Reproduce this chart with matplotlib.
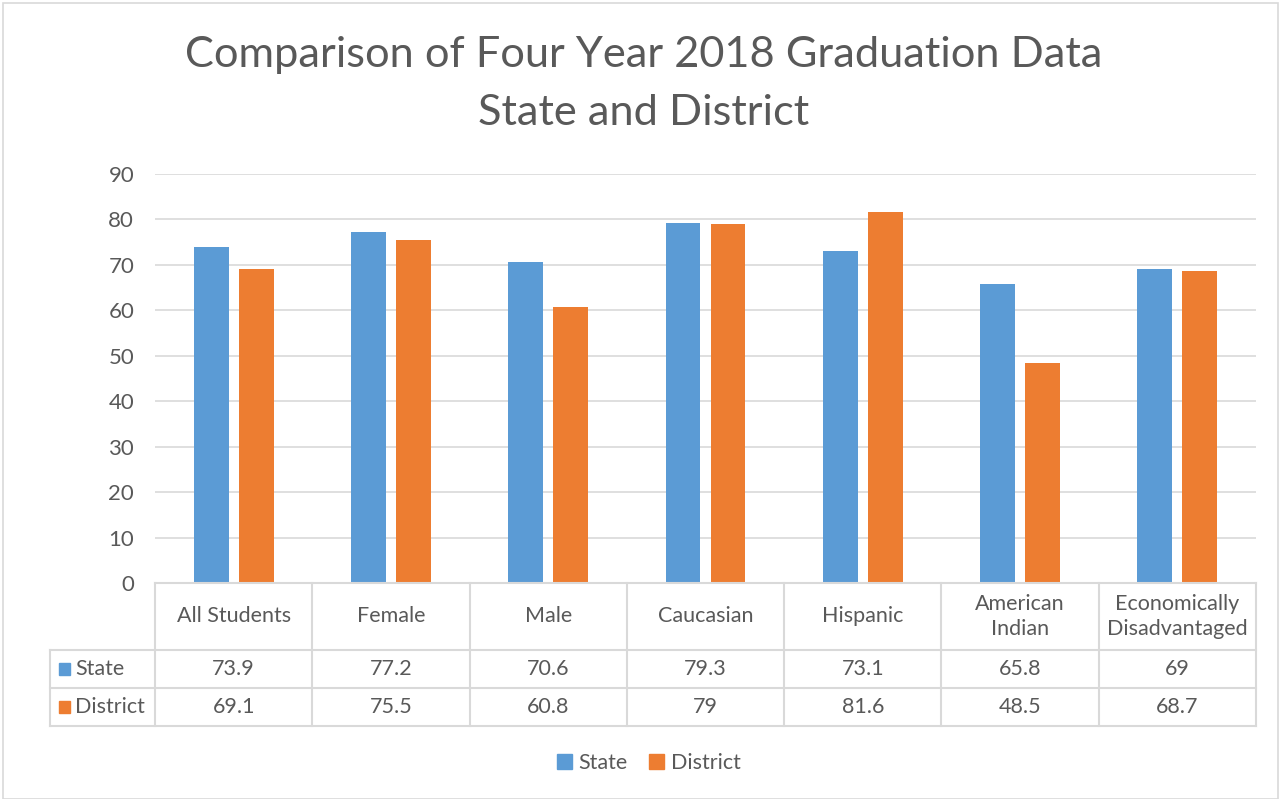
import matplotlib.pyplot as plt
from matplotlib.patches import Patch, Rectangle

categories = ["All Students", "Female", "Male", "Caucasian", "Hispanic",
              "American\nIndian", "Economically\nDisadvantaged"]
state = [73.9, 77.2, 70.6, 79.3, 73.1, 65.8, 69]
district = [69.1, 75.5, 60.8, 79, 81.6, 48.5, 68.7]
series_names = ["State", "District"]
yticks = [0, 10, 20, 30, 40, 50, 60, 70, 80, 90]

BLUE = "#5B9BD5"
ORANGE = "#ED7D31"
TEXT = "#595959"
GRID = "#D9D9D9"
FONT = "Lato"

W, H = 1280, 799
fig = plt.figure(figsize=(W / 100, H / 100), dpi=100)
plt.rcParams["font.family"] = [FONT, "DejaVu Sans"]


def px_box(x0, y0, x1, y1):
    """Pixel box (top-left origin) to figure fraction rect."""
    return [x0 / W, 1 - y1 / H, (x1 - x0) / W, (y1 - y0) / H]


# outer chart frame
fig.patches.append(Rectangle((3 / W, 0), (W - 5) / W, 1 - 3 / H, transform=fig.transFigure,
                             fill=False, edgecolor=GRID, linewidth=1.2))

# bars
ax = fig.add_axes(px_box(155, 174, 1256, 583))
n = len(categories)
xs = [i + 0.5 for i in range(n)]
bw = 0.222
gap = 0.064
ax.bar([x - (bw + gap) / 2 for x in xs], state, width=bw, color=BLUE, zorder=3)
ax.bar([x + (bw + gap) / 2 for x in xs], district, width=bw, color=ORANGE, zorder=3)
ax.set_xlim(0, n)
ax.set_ylim(0, 90)
ax.set_yticks(yticks)
ax.set_yticklabels([str(t) for t in yticks], fontsize=16, color=TEXT)
ax.tick_params(axis="y", length=0, pad=15)
ax.set_xticks([])
ax.grid(axis="y", color=GRID, linewidth=1.2, zorder=0)
for s in ax.spines.values():
    s.set_visible(False)

# data table below the plot
label_w = 105 / ((1256 - 155) / n)
tab = fig.add_axes(px_box(50, 583, 1256, 727))
tab.set_xlim(-label_w, n)
tab.set_ylim(144, 0)
tab.axis("off")
row_y = [0, 67, 105, 143]
lw = 1.5
tab.plot([0, n], [row_y[0]] * 2, color=GRID, lw=lw, clip_on=False)
for y in row_y[1:]:
    tab.plot([-label_w, n], [y, y], color=GRID, lw=lw, clip_on=False)
for i in range(n + 1):
    tab.plot([i, i], [row_y[0], row_y[3]], color=GRID, lw=lw, clip_on=False)
tab.plot([-label_w, -label_w], [row_y[1], row_y[3]], color=GRID, lw=lw, clip_on=False)

fs = 15.5
for i, cat in enumerate(categories):
    tab.text(i + 0.5, (row_y[0] + row_y[1]) / 2, cat, ha="center", va="center",
             fontsize=fs, color=TEXT, linespacing=1.3)
for r, (vals, name, col) in enumerate(zip([state, district], series_names, [BLUE, ORANGE])):
    yc = (row_y[r + 1] + row_y[r + 2]) / 2
    for i, v in enumerate(vals):
        tab.text(i + 0.5, yc, f"{v:g}", ha="center", va="center", fontsize=fs, color=TEXT)
    tab.add_patch(Rectangle((-label_w + 0.06, yc - 6), 0.07, 12, color=col, clip_on=False))
    tab.text(-label_w + 0.16, yc, name, ha="left", va="center", fontsize=fs, color=TEXT)

# title
fig.text(0.503, 1 - 55 / H, "Comparison of Four Year 2018 Graduation Data",
         ha="center", va="center", fontsize=31.2, color=TEXT)
fig.text(0.503, 1 - 113 / H, "State and District",
         ha="center", va="center", fontsize=31.2, color=TEXT)

# legend
handles = [Patch(color=BLUE, label="State"), Patch(color=ORANGE, label="District")]
fig.legend(handles=handles, loc="center", bbox_to_anchor=(0.507, 1 - 763 / H), ncol=2,
           frameon=False, fontsize=fs, labelcolor=TEXT, handlelength=0.7,
           handleheight=0.7, handletextpad=0.3, columnspacing=1.0)

fig.savefig("out.png", dpi=100)
